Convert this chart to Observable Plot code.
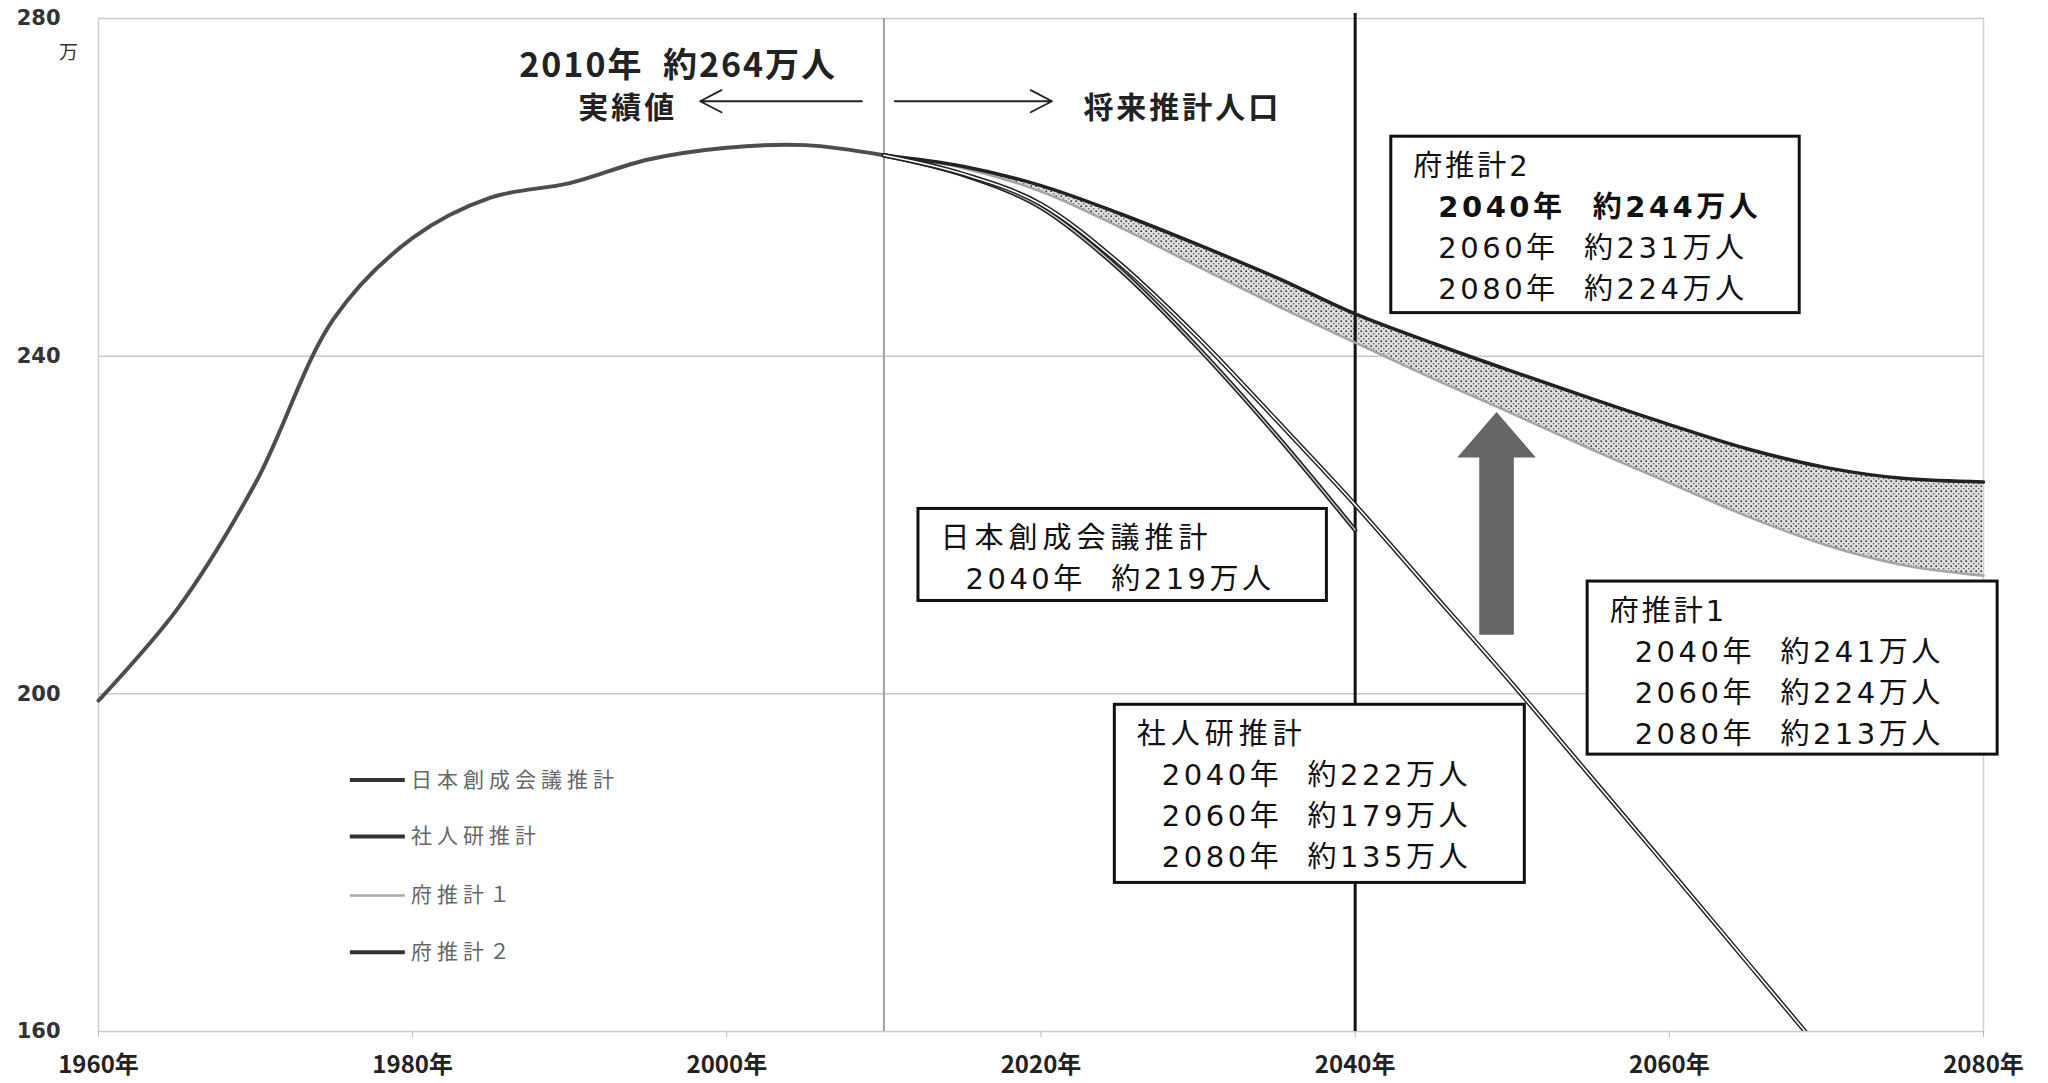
<!DOCTYPE html>
<html><head><meta charset="utf-8">
<script src="https://cdn.jsdelivr.net/npm/d3@7"></script>
<script src="https://cdn.jsdelivr.net/npm/@observablehq/plot@0.6"></script>
<style>
body{margin:0;background:#fff}
svg{display:block}
</style>
</head><body><div id="chart"></div>
<script>
// ---- data (万人) ----
const histYears  = [1960,1965,1970,1975,1980,1985,1990,1995,2000,2005,2010];
const histValues = [199.2,210.0,225.0,244.5,254.0,258.8,260.5,263.3,264.7,265.0,263.8];

const projYears   = [2010,2015,2020,2025,2030,2035,2040,2045,2050,2055,2060,2065,2070,2075,2080];
const pref2Values = [263.8,262.5,260.2,256.9,253.2,249.3,245.0,241.5,238.2,235.0,231.9,229.0,226.8,225.5,225.1];
const pref1Values = [263.8,262.3,259.5,255.3,250.6,246.0,241.6,237.3,233.2,229.0,225.0,221.0,217.6,215.2,214.0];
const ipssValues  = [263.8,261.6,258.0,251.0,242.2,232.4,222.4,211.8,201.2,190.2,179.2,168.1,157.0,146.0,135.0];
const soseiYears  = [2010,2015,2020,2025,2030,2035,2040];
const soseiValues = [263.8,261.5,257.6,250.3,241.0,230.6,219.4];

const xTicks = [1960,1980,2000,2020,2040,2060,2080];
const yTicks = [160,200,240,280];

const legendLabels = ["日本創成会議推計","社人研推計","府推計１","府推計２"];

const boxes = [
  {x1:2042.3, x2:2068.3, y1:266.0, y2:245.1, title:"府推計2",
   rows:["2040年  約244万人","2060年  約231万人","2080年  約224万人"], boldFirst:true},
  {x1:2012.2, x2:2038.2, y1:221.9, y2:211.0, title:"日本創成会議推計",
   rows:["2040年  約219万人"]},
  {x1:2024.7, x2:2050.8, y1:198.7, y2:177.6, title:"社人研推計",
   rows:["2040年  約222万人","2060年  約179万人","2080年  約135万人"]},
  {x1:2054.8, x2:2080.9, y1:213.3, y2:192.8, title:"府推計1",
   rows:["2040年  約241万人","2060年  約224万人","2080年  約213万人"]}
];

const topTitle = "2010年  約264万人";
const topLabels = ["実績値","将来推計人口"];

// ---- tables ----
const hist  = histYears.map((year,i)=>({year, v:histValues[i]}));
const pref2 = projYears.map((year,i)=>({year, v:pref2Values[i]}));
const pref1 = projYears.map((year,i)=>({year, v:pref1Values[i]}));
const ipss  = projYears.map((year,i)=>({year, v:ipssValues[i]}));
const sosei = soseiYears.map((year,i)=>({year, v:soseiValues[i]}));
const band  = projYears.map((year,i)=>({year, lo:pref1Values[i], hi:pref2Values[i]}));

// legend placement (data units)
const legendX1 = 1976.0, legendX2 = 1979.5, legendTextX = 1979.9;
const legendY = [189.8,183.1,176.1,169.4];
const legend = legendLabels.map((label,i)=>({label, y:legendY[i], light: i===2}));

// big up-arrow annotation (data units)
const upArrow = {x:2049, yBase:207, yTip:233.4, shaftHalf:1.1, headHalf:2.5, headLen:5.4};
const arrowPts = [
  [upArrow.x-upArrow.shaftHalf, upArrow.yBase],
  [upArrow.x-upArrow.shaftHalf, upArrow.yTip-upArrow.headLen],
  [upArrow.x-upArrow.headHalf, upArrow.yTip-upArrow.headLen],
  [upArrow.x, upArrow.yTip],
  [upArrow.x+upArrow.headHalf, upArrow.yTip-upArrow.headLen],
  [upArrow.x+upArrow.shaftHalf, upArrow.yTip-upArrow.headLen],
  [upArrow.x+upArrow.shaftHalf, upArrow.yBase]
].map(([x,y])=>({x,y}));

const topArrows = [
  {x1:2008.6, x2:1998.3, y:270.2},
  {x1:2010.7, x2:2020.7, y:270.2}
];

const font = "'Noto Sans CJK JP', sans-serif";
const boxFont = "'DejaVu Sans', 'Noto Sans CJK JP', sans-serif";

const rowMarks = [0,1,2].flatMap(i => {
  const d = boxes.filter(b => b.rows.length > i).map(b => ({x:b.x1, y:b.y1, text:b.rows[i], bold: !!b.boldFirst && i===0}));
  const base = {x:"x", y:"y", text:"text", dx:47, dy:71+41*i, textAnchor:"start", lineAnchor:"middle",
    fontSize:29, fill:"#111", fontFamily:boxFont};
  return [
    Plot.text(d.filter(r=>!r.bold), base),
    Plot.text(d.filter(r=>r.bold), {...base, fontWeight:"bold"})
  ];
});

const plot = Plot.plot({
  width: 2048, height: 1083,
  marginLeft: 98, marginRight: 65, marginTop: 18, marginBottom: 52,
  x: {domain:[1960,2080]},
  y: {domain:[160,280]},
  style: {background:"#fff", fontFamily: font},
  marks: [
    Plot.gridY(yTicks, {stroke:"#c9c9c9", strokeOpacity:1, strokeWidth:1.5}),
    Plot.ruleX([1960,2080], {stroke:"#d0d0d0", strokeWidth:1.5}),
    Plot.axisY({ticks:yTicks, tickSize:0, tickPadding:38, fontSize:21, fontWeight:"bold",
      fontFamily:"'DejaVu Sans', sans-serif", fill:"#333", label:null}),
    Plot.axisX({ticks:xTicks, tickSize:6, tickPadding:18, tickFormat:d=>`${d}年`,
      fontSize:24, fontWeight:"bold", stroke:"#bbb", fill:"#222", label:null, fontFamily: font}),
    Plot.text([{x:1960,y:280}], {x:"x", y:"y", text:()=> "万", dx:-30, dy:34, fontSize:19, fill:"#333"}),

    // band between 府推計1 and 府推計2
    Plot.areaY(band, {x:"year", y1:"lo", y2:"hi", fill:"url(#dots)", curve:"monotone-x"}),

    // vertical markers
    Plot.ruleX([2010], {stroke:"#a0a0a0", strokeWidth:2}),
    Plot.ruleX([2040], {y1:160, y2:280.6, stroke:"#111", strokeWidth:3}),

    // lines
    Plot.line(hist, {x:"year", y:"v", stroke:"#4d4d4d", strokeWidth:4, curve:"catmull-rom"}),
    Plot.line(pref1, {x:"year", y:"v", stroke:"#a5a5a5", strokeWidth:2.5, curve:"monotone-x"}),
    Plot.line(pref2, {x:"year", y:"v", stroke:"#222", strokeWidth:3.5, curve:"monotone-x"}),
    Plot.line(sosei, {x:"year", y:"v", stroke:"#222", strokeWidth:4.5, curve:"monotone-x"}),
    Plot.line(sosei, {x:"year", y:"v", stroke:"#cfcfcf", strokeWidth:1.3, curve:"monotone-x"}),
    Plot.line(ipss, {x:"year", y:"v", stroke:"#222", strokeWidth:4.5, curve:"monotone-x", clip:true}),
    Plot.line(ipss, {x:"year", y:"v", stroke:"#fff", strokeWidth:1.6, curve:"monotone-x", clip:true}),

    // big arrow
    Plot.line(arrowPts, {x:"x", y:"y", fill:"#666", stroke:"none"}),

    // annotation boxes
    Plot.rect(boxes, {x1:"x1", x2:"x2", y1:"y1", y2:"y2", fill:"#fff", stroke:"#111", strokeWidth:3}),
    Plot.text(boxes, {x:"x1", y:"y1", text:"title", dx:22, dy:30, textAnchor:"start", lineAnchor:"middle",
      fontSize:29, fill:"#111", fontFamily:boxFont}),
    ...rowMarks,

    // top annotations
    Plot.text([{x:1996.9, y:274.4, t:topTitle}], {x:"x", y:"y", text:"t", fontSize:34,
      fontWeight:"bold", fill:"#222", lineAnchor:"middle"}),
    Plot.text([{x:1993.7, y:269.3, t:topLabels[0]},{x:2029.0, y:269.3, t:topLabels[1]}],
      {x:"x", y:"y", text:"t", fontSize:30, fontWeight:"bold", fill:"#222", lineAnchor:"middle"}),
    Plot.arrow(topArrows, {x1:"x1", x2:"x2", y1:"y", y2:"y", stroke:"#222", strokeWidth:1.8,
      headLength:20, headAngle:55}),

    // legend
    Plot.link(legend.filter(d=>!d.light), {x1:()=>legendX1, x2:()=>legendX2, y1:"y", y2:"y", stroke:"#333", strokeWidth:4}),
    Plot.link(legend.filter(d=>d.light), {x1:()=>legendX1, x2:()=>legendX2, y1:"y", y2:"y", stroke:"#aaa", strokeWidth:2.5}),
    Plot.text(legend, {x:()=>legendTextX, y:"y", text:"label", textAnchor:"start", lineAnchor:"middle",
      fontSize:21, fill:"#666"})
  ]
});

const svg = d3.select(plot);
svg.insert("defs", ":first-child").html(`
  <pattern id="dots" width="5" height="5" patternUnits="userSpaceOnUse">
    <rect width="5" height="5" fill="#dedede"></rect>
    <circle cx="1.2" cy="1.2" r="0.9" fill="#333"></circle>
    <circle cx="3.7" cy="3.7" r="0.8" fill="#555"></circle>
  </pattern>`);

// letter spacing to match the wide-set type of the original
const spacing = new Map();
boxes.forEach(b => { spacing.set(b.title, 3); b.rows.forEach(r => spacing.set(r, 3.5)); });
legendLabels.forEach(l => spacing.set(l, 5));
topLabels.forEach(l => spacing.set(l, 3));
spacing.set(topTitle, 2);
svg.selectAll("text").each(function() {
  const s = spacing.get(this.textContent);
  if (s != null) { this.setAttribute("letter-spacing", s); this.style.letterSpacing = s + "px"; }
});

document.getElementById("chart").append(plot);
</script>
</body></html>
